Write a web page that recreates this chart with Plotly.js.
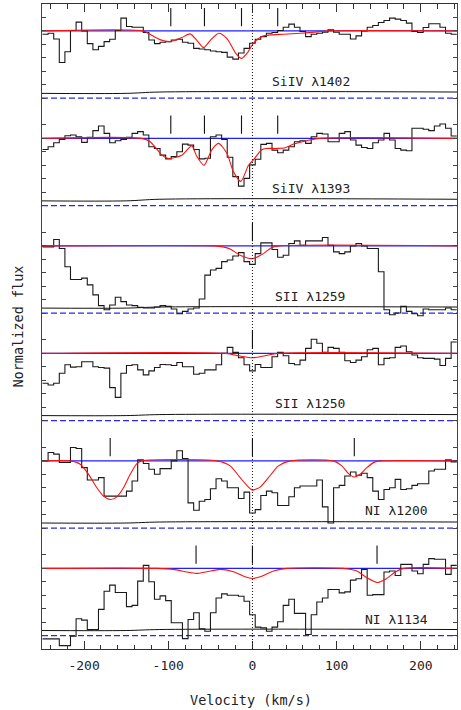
<!DOCTYPE html>
<html><head><meta charset="utf-8">
<script src="https://cdn.plot.ly/plotly-3.0.1.min.js"></script>
<style>html,body{margin:0;padding:0;background:#fff;} #chart{width:461px;height:710px;}</style>
</head><body><div id="chart"></div>
<script>
// ---------------- DATA ----------------
// pixel grid of the spectra (km/s): left edge of first pixel and pixel width
const PIX_START = -249.4;
const PIX_WIDTH = 6.65;

const lineLabels = ['SiIV λ1402', 'SiIV λ1393', 'SII λ1259', 'SII λ1250', 'NI λ1200', 'NI λ1134'];

const fluxSiIV1402 = [0.95,0.965,0.88,0.53,0.69,1.005,1.13,1.0,0.81,0.72,
 0.77,0.84,0.875,1.005,1.19,1.065,1.055,1.055,0.975,0.865,
 0.81,0.83,0.84,0.865,0.875,0.83,0.815,0.74,0.73,0.72,
 0.70,0.69,0.68,0.61,0.58,0.67,0.74,0.815,0.875,0.915,
 0.965,0.975,1.005,1.055,1.10,1.055,0.99,0.915,0.95,0.965,
 0.98,1.015,0.98,0.95,0.95,0.88,0.925,1.0,1.055,1.08,
 1.125,1.155,1.19,1.175,1.155,1.115,0.99,0.975,1.05,1.105,
 1.105,1.055,0.965,0.95];
const fluxSiIV1393 = [0.835,0.875,0.935,0.985,1.04,1.05,1.025,0.94,1.015,1.115,
 1.185,1.075,0.935,0.965,0.985,1.015,1.075,1.10,1.05,0.875,
 0.85,0.75,0.695,0.73,0.80,0.915,0.90,0.835,0.695,0.705,
 1.025,1.05,0.985,0.72,0.43,0.29,0.405,0.605,0.69,0.91,
 0.925,0.825,0.785,0.825,0.875,0.95,0.965,0.925,1.025,1.075,
 1.065,0.95,0.95,1.075,1.10,0.975,0.90,0.865,0.85,0.935,
 0.975,1.075,0.975,0.85,0.825,0.815,1.15,1.15,1.135,1.115,
 1.185,1.215,1.15,1.035];
const fluxSII1259 = [0.985,0.985,1.095,0.96,0.69,0.50,0.50,0.52,0.42,0.27,
 0.11,0.05,0.12,0.235,0.17,0.12,0.11,0.085,0.075,0.075,
 0.09,0.11,0.10,0.06,-0.01,0.025,0.06,0.075,0.21,0.565,
 0.64,0.665,0.765,0.79,0.85,0.90,0.765,0.725,0.885,1.045,
 1.045,0.945,0.83,0.86,1.035,1.075,1.01,1.075,1.075,1.075,
 1.125,1.01,0.91,0.885,0.91,1.0,1.035,1.0,0.96,0.96,
 0.615,0.05,-0.025,0.0,0.10,0.025,-0.01,-0.04,0.06,0.05,
 0.05,0.05,0.075,0.05];
const fluxSII1250 = [0.555,0.53,0.555,0.705,0.83,0.795,0.80,0.875,0.875,0.80,
 0.79,0.78,0.49,0.345,0.705,0.82,0.83,0.755,0.68,0.74,
 0.79,0.835,0.83,0.82,0.865,0.80,0.80,0.69,0.705,0.755,
 0.755,0.83,1.0,1.09,1.015,0.935,0.83,0.74,0.835,0.79,
 0.79,0.95,1.015,0.965,0.85,0.83,0.90,1.075,1.21,1.15,
 1.015,1.09,1.075,1.015,0.89,0.865,0.90,0.95,1.055,1.075,
 0.83,0.925,0.935,1.09,1.11,1.025,0.975,0.935,0.925,0.925,
 0.915,0.82,0.925,1.17];
const fluxNI1200 = [1.0,1.125,1.10,0.975,0.975,1.20,1.185,0.90,0.715,0.715,
 0.75,0.475,0.475,0.475,0.475,0.55,0.70,1.015,0.96,0.875,
 0.80,0.885,0.885,1.0,1.15,1.035,0.375,0.265,0.40,0.425,
 0.585,0.735,0.70,0.60,0.60,0.44,0.535,0.225,0.275,0.485,
 0.55,0.525,0.335,0.335,0.465,0.60,0.625,0.625,0.625,0.715,
 0.315,0.075,0.60,0.635,0.775,0.835,0.785,0.815,0.75,0.55,
 0.425,0.575,0.60,0.725,0.575,0.585,0.635,0.66,0.66,0.85,
 0.875,0.875,1.015,0.985];
const fluxNI1134 = [-0.05,-0.05,-0.05,-0.15,-0.15,-0.01,0.25,0.23,0.09,0.09,
 0.39,0.66,0.75,0.64,0.64,0.43,0.45,0.81,1.045,0.80,
 0.54,0.59,0.52,0.19,0.19,-0.045,0.24,0.34,0.10,0.065,
 0.34,0.56,0.62,0.60,0.60,0.585,0.51,0.31,0.125,0.115,
 0.065,0.125,0.205,0.45,0.54,0.33,0.33,0.015,0.31,0.50,
 0.56,0.685,0.685,0.635,0.65,0.825,0.845,0.985,0.60,0.61,
 0.61,0.945,0.96,0.895,1.06,1.06,0.96,0.92,1.06,1.145,
 1.135,1.135,0.91,1.045];

// fitted model (red), read at key velocities
const modelV1402 = [-250,-130,-122,-110,-98,-84,-74,-66,-58,-50,-40,-30,-20,-13,-5,1,11,21,37,57,77,90,243];
const modelF1402 = [1,1,0.95,0.87,0.84,0.9,0.955,0.86,0.75,0.86,0.965,0.88,0.67,0.59,0.69,0.815,0.915,0.94,0.95,0.965,0.985,1,1];
const modelV1393 = [-250,-132,-121.5,-113.6,-107.7,-99.7,-84,-76,-72,-66,-57.4,-48.3,-40.4,-30.4,-22.6,-13.8,-4.7,1.2,11,17,29,39,49,64.5,78.4,243];
const modelF1393 = [1,1,0.95,0.84,0.75,0.70,0.75,0.85,0.89,0.73,0.60,0.83,0.925,0.78,0.505,0.36,0.60,0.68,0.83,0.85,0.85,0.86,0.915,0.965,1,1];
const modelV1259 = [-250,-45,-35,-26.5,-14.6,0,13.1,22,31,243];
const modelF1259 = [1,1,0.985,0.955,0.86,0.81,0.885,0.97,1,1];
const modelV1250 = [-250,-32,-14.6,0,15,30,243];
const modelF1250 = [1,1,0.96,0.935,0.965,1,1];
const modelV1200 = [-250,-216.5,-204.6,-194.7,-184.8,-176.9,-169,-161.1,-153.2,-145.2,-137.3,-131.4,-42.3,-26.5,-14.6,-4.7,0,9.1,19,30.9,44.7,96.3,106.2,114.1,120.8,128,135.9,145.8,151.7,243];
const modelF1200 = [1,1,0.95,0.80,0.60,0.475,0.425,0.465,0.60,0.80,0.96,1,1,0.925,0.75,0.61,0.565,0.61,0.75,0.925,1,1,0.925,0.81,0.76,0.80,0.90,0.985,1,1];
const modelV1134 = [-250,-113.6,-93.8,-77.9,-66.8,-54.2,-38.4,-22.6,-8.7,0,9.1,25,40.8,108.1,124,135.9,148.2,157.7,169.6,179.5,243];
const modelF1134 = [1,1,0.985,0.945,0.925,0.95,0.985,0.95,0.875,0.85,0.875,0.96,1,1,0.96,0.86,0.79,0.835,0.945,1,1];

// error spectra (black line near zero)
const errV = [-250,-150,-110,243];
const err1402 = [0.07,0.07,0.09,0.09];
const err1393 = [0.07,0.07,0.094,0.094];
const err1259 = [0.074,0.074,0.09,0.09];
const err1250 = [0.074,0.074,0.089,0.089];
const err1200 = [0.075,0.075,0.09,0.09];
const err1134 = [0.075,0.075,0.09,0.09];

// component velocities (tick marks)
const comps1402 = [-97,-57,-13,30];
const comps1393 = [-97,-57,-13,30];
const comps1259 = [0];
const comps1250 = [0];
const comps1200 = [-169,0,121];
const comps1134 = [-67,0,148];

const xTickVals = [-200,-100,0,100,200];
const xTickText = ['-200','-100','0','100','200'];

// ---------------- BUILD ----------------
const panels = [
  {label: lineLabels[0], flux: fluxSiIV1402, mv: modelV1402, mf: modelF1402, err: err1402, comps: comps1402},
  {label: lineLabels[1], flux: fluxSiIV1393, mv: modelV1393, mf: modelF1393, err: err1393, comps: comps1393},
  {label: lineLabels[2], flux: fluxSII1259, mv: modelV1259, mf: modelF1259, err: err1259, comps: comps1259},
  {label: lineLabels[3], flux: fluxSII1250, mv: modelV1250, mf: modelF1250, err: err1250, comps: comps1250},
  {label: lineLabels[4], flux: fluxNI1200, mv: modelV1200, mf: modelF1200, err: err1200, comps: comps1200},
  {label: lineLabels[5], flux: fluxNI1134, mv: modelV1134, mf: modelF1134, err: err1134, comps: comps1134}
];
const labelX = [21, 21, 24, 24, 131, 131];
const labelY = [0.24, 0.25, 0.25, 0.25, 0.26, 0.24];
const XR = [-250, 243];
const FONT = 'DejaVu Sans Mono, Liberation Mono, monospace';

const traces = [];
const layout = {
  width: 461, height: 710,
  margin: {l: 42, r: 4, t: 4, b: 61},
  paper_bgcolor: '#ffffff', plot_bgcolor: '#ffffff',
  showlegend: false,
  font: {family: FONT, size: 13, color: '#222'},
  annotations: [], shapes: []
};

panels.forEach((p, i) => {
  const k = i === 0 ? '' : String(i + 1);
  const xa = 'x' + k, ya = 'y' + k;
  // pixel edges
  const xs = p.flux.map((_, j) => PIX_START + j * PIX_WIDTH);
  xs.push(PIX_START + p.flux.length * PIX_WIDTH);
  const ys = p.flux.slice(); ys.push(p.flux[p.flux.length - 1]);

  traces.push({x: XR, y: [0, 0], xaxis: xa, yaxis: ya, mode: 'lines', hoverinfo: 'skip',
    line: {color: '#2a2ae6', width: 1.2, dash: '6px,3px'}});
  traces.push({x: errV, y: p.err, xaxis: xa, yaxis: ya, mode: 'lines', hoverinfo: 'skip',
    line: {color: '#111', width: 1, shape: 'spline'}});
  traces.push({x: XR, y: [1, 1], xaxis: xa, yaxis: ya, mode: 'lines', hoverinfo: 'skip',
    line: {color: '#1f1fff', width: 1.2}});
  traces.push({x: xs, y: ys, xaxis: xa, yaxis: ya, mode: 'lines', hoverinfo: 'skip',
    line: {color: '#1a1a1a', width: 1.1, shape: 'hv'}});
  traces.push({x: p.mv, y: p.mf, xaxis: xa, yaxis: ya, mode: 'lines', hoverinfo: 'skip',
    line: {color: '#ff1010', width: 1.1, shape: 'spline', smoothing: 0.7}});
  const cx = [], cy = [];
  p.comps.forEach(v => { cx.push(v, v, null); cy.push(1.07, 1.34, null); });
  traces.push({x: cx, y: cy, xaxis: xa, yaxis: ya, mode: 'lines', hoverinfo: 'skip',
    line: {color: '#111', width: 1.1}});

  const top = 1 - i / 6, bot = 1 - (i + 1) / 6;
  layout['yaxis' + k] = {
    domain: [bot, top], range: [-0.2, 1.4], anchor: xa,
    tickmode: 'linear', tick0: 0, dtick: 0.2,
    ticks: 'inside', ticklen: 4, tickwidth: 1, tickcolor: '#444',
    showticklabels: false, showline: true, linecolor: '#444', linewidth: 1,
    mirror: 'ticks', showgrid: false, zeroline: false, fixedrange: true
  };
  const xaxis = {
    range: XR, anchor: ya, showgrid: false, zeroline: false, fixedrange: true,
    tickmode: 'array', tickvals: xTickVals, ticktext: xTickText,
    ticks: 'inside', ticklen: 8, tickwidth: 1, tickcolor: '#333',
    showline: true, linecolor: '#333', linewidth: 1,
    minor: {tickmode: 'linear', tick0: 0, dtick: 20, ticks: 'inside', ticklen: 4.5, tickwidth: 1, tickcolor: '#333', showgrid: false},
    tickfont: {family: FONT, size: 13, color: '#222'},
    ticklabelstandoff: 4
  };
  if (i === 0) { xaxis.side = 'top'; xaxis.showticklabels = false; }
  else if (i === 5) { xaxis.side = 'bottom'; xaxis.showticklabels = true; }
  else { xaxis.visible = false; }
  layout['xaxis' + k] = xaxis;

  layout.annotations.push({xref: xa, yref: ya, x: labelX[i], y: labelY[i], text: p.label,
    showarrow: false, xanchor: 'left', yanchor: 'middle',
    font: {family: FONT, size: 13, color: '#222'}});
});

layout.shapes.push({type: 'line', xref: 'x', yref: 'paper', x0: 0, x1: 0, y0: 0, y1: 1,
  line: {color: '#111', width: 1, dash: '1px,2px'}, layer: 'above'});

layout.annotations.push({xref: 'paper', yref: 'paper', x: 0.5036, y: -0.079, text: 'Velocity (km/s)',
  showarrow: false, xanchor: 'center', yanchor: 'middle', font: {family: FONT, size: 13.5, color: '#222'}});
layout.annotations.push({xref: 'paper', yref: 'paper', x: -0.0602, y: 0.5, text: 'Normalized flux', textangle: -90,
  showarrow: false, xanchor: 'center', yanchor: 'middle', font: {family: FONT, size: 13.5, color: '#222'}});

Plotly.newPlot('chart', traces, layout, {displayModeBar: false, staticPlot: true});
</script>
</body></html>
